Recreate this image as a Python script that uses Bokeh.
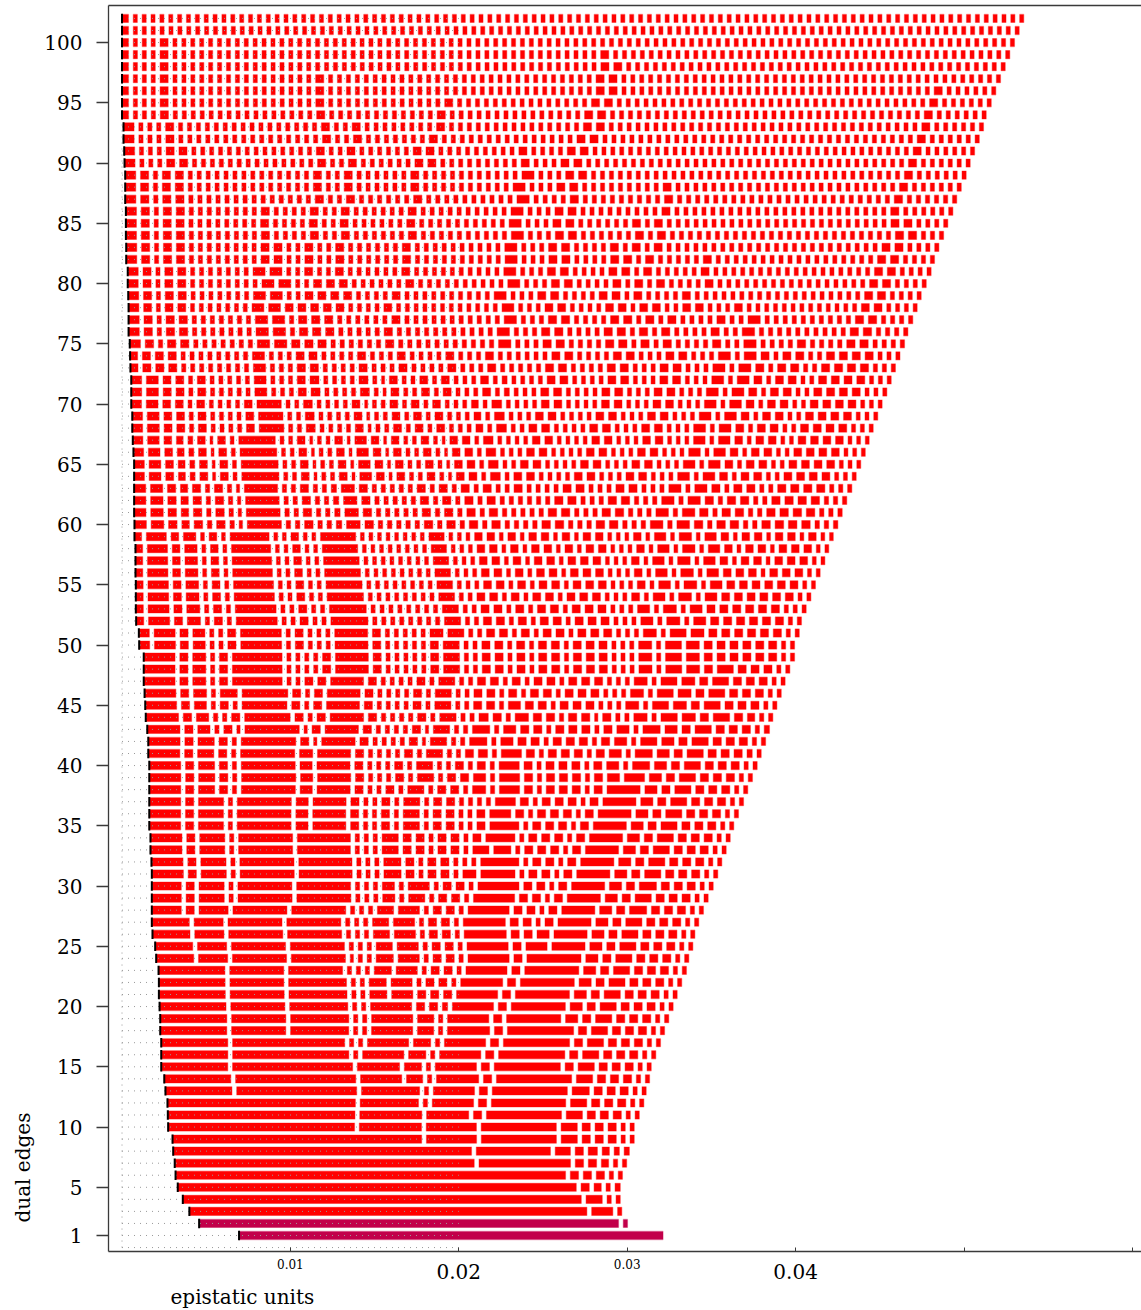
import numpy as np
from bokeh.plotting import figure
from bokeh.models import Range1d, FixedTicker, LinearAxis, Title, ColumnDataSource
from bokeh.embed import file_html
from bokeh.resources import INLINE

# ---- data -----------------------------------------------------------------
# Each row k (dual edges = k) is a run of k contiguous segments between
# row_start and row_end (epistatic units).  row_widths holds the relative
# segment widths, left to right ("w*n" = n segments of width w).
row_start = [
    0.00695, 0.00458, 0.00400, 0.00361, 0.00331, 0.00318, 0.00313, 0.00304, 0.00300, 0.00274,
    0.00272, 0.00270, 0.00258, 0.00251, 0.00233, 0.00233, 0.00233, 0.00227, 0.00227, 0.00223,
    0.00219, 0.00219, 0.00217, 0.00203, 0.00197, 0.00181, 0.00177, 0.00177, 0.00177, 0.00177,
    0.00177, 0.00175, 0.00169, 0.00169, 0.00162, 0.00162, 0.00162, 0.00162, 0.00162, 0.00162,
    0.00156, 0.00156, 0.00150, 0.00141, 0.00138, 0.00134, 0.00129, 0.00129, 0.00129, 0.00102,
    0.00100, 0.00084, 0.00082, 0.00082, 0.00082, 0.00080, 0.00080, 0.00080, 0.00074, 0.00074,
    0.00072, 0.00072, 0.00072, 0.00072, 0.00072, 0.00068, 0.00064, 0.00061, 0.00061, 0.00055,
    0.00055, 0.00055, 0.00050, 0.00048, 0.00046, 0.00039, 0.00039, 0.00039, 0.00037, 0.00034,
    0.00034, 0.00025, 0.00025, 0.00023, 0.00023, 0.00023, 0.00019, 0.00019, 0.00019, 0.00015,
    0.00013, 0.00009, 0.00009, 0.00000, 0.00000, 0.00000, 0.00000, 0.00000, 0.00000, 0.00000,
    0.00000, 0.00000,
]

row_end = [
    0.03227, 0.03016, 0.02982, 0.02973, 0.02973, 0.02986, 0.03011, 0.03027, 0.03056, 0.03056,
    0.03086, 0.03113, 0.03127, 0.03147, 0.03157, 0.03184, 0.03212, 0.03236, 0.03261, 0.03287,
    0.03311, 0.03338, 0.03366, 0.03380, 0.03404, 0.03416, 0.03439, 0.03467, 0.03495, 0.03525,
    0.03552, 0.03576, 0.03602, 0.03626, 0.03647, 0.03675, 0.03705, 0.03730, 0.03758, 0.03786,
    0.03810, 0.03836, 0.03859, 0.03879, 0.03903, 0.03929, 0.03952, 0.03980, 0.04008, 0.04008,
    0.04036, 0.04049, 0.04077, 0.04105, 0.04132, 0.04160, 0.04188, 0.04211, 0.04238, 0.04265,
    0.04291, 0.04318, 0.04348, 0.04374, 0.04401, 0.04428, 0.04451, 0.04475, 0.04502, 0.04528,
    0.04556, 0.04582, 0.04607, 0.04634, 0.04661, 0.04681, 0.04710, 0.04736, 0.04760, 0.04790,
    0.04819, 0.04839, 0.04865, 0.04893, 0.04918, 0.04948, 0.04971, 0.04998, 0.05027, 0.05051,
    0.05077, 0.05105, 0.05130, 0.05146, 0.05176, 0.05203, 0.05231, 0.05259, 0.05286, 0.05314,
    0.05342, 0.05369,
]

row_widths = [
    "1",
    "422 9",
    "401 26 9",
    "401 21 9 9",
    "401 13 12 9 10",
    "393 13 13 13 9 9",
    "301 96 13 13 12 9 9",
    "301 79 20 13 14 12 10 10",
    "252 55 80 21 13 13 13 9 9",
    "189 67 55 80 21 13 13 13 9 9",
    "190 67 47 13 80 21 13 13 13 9 9",
    "190 63 9 46 13 79 21 13 13 13 9 9",
    "69 125 63 9 46 13 80 22 13 13 13 9 9",
    "69 125 46 21 9 47 13 80 21 13 13 13 9 9",
    "69 125 47 22 9 46 13 71 13 21 13 13 13 9 9",
    "69 121 9 46 22 9 46 13 71 13 21 13 13 13 9 9",
    "69 117 9 9 46 22 9 46 13 71 13 21 13 13 13 9 9",
    "69 59 63 9 9 46 21 9 47 13 71 13 21 13 13 13 9 9",
    "69 59 63 9 9 46 21 9 46 13 59 17 13 21 13 13 13 9 9",
    "69 59 63 9 9 46 13 13 10 46 13 59 17 13 21 13 13 13 9 9",
    "69 59 63 9 9 22 26 13 13 13 46 13 59 17 13 21 13 13 13 9 9",
    "69 59 63 9 9 22 26 9 13 13 9 47 13 59 17 13 21 13 13 13 9 9",
    "69 59 59 9 9 9 22 26 9 13 13 9 46 13 59 17 13 21 13 13 13 9 9",
    "40 34 59 59 8 9 9 22 26 9 13 13 9 46 13 59 17 13 21 13 13 13 9 9",
    "40 34 59 59 9 9 9 21 26 9 13 13 9 46 13 26 38 17 13 21 13 13 13 9 9",
    "40 34 59 59 9 9 9 21 26 9 13 13 9 47 13 13 17 38 17 13 21 13 13 13 9 9",
    "40 34 59 59 9 9 9 21 26 9 13 13 9 47 13 13 9 13 38 17 13 21 13 13 13 9 9",
    "32 13 34 59 59 9 9 9 21 26 9 13 13 9 46 13 13 9 13 38 17 13 22 13 13 13 9 9",
    "32 13 30 9 59 59 9 9 9 17 9 21 9 13 13 9 46 13 13 9 13 38 17 13 21 13 13 13 9 9",
    "32 13 30 9 59 59 9 9 9 17 9 26 9 13 13 9 46 13 13 9 13 38 17 13 22 13 13 13 9 9",
    "34 13 30 9 59 58 9 9 9 22 13 9 13 13 9 18 39 9 13 13 9 13 38 17 13 21 13 13 13 9 9",
    "34 13 30 9 59 58 9 9 9 22 13 9 13 13 9 9 9 43 9 13 13 9 13 38 17 13 21 13 13 13 9 9",
    "34 13 30 9 59 58 9 9 9 21 13 13 9 13 13 9 21 22 9 13 13 13 9 13 38 17 13 21 13 13 13 9 9",
    "34 13 30 9 59 58 9 9 9 21 13 13 9 13 13 9 13 34 9 13 13 13 9 13 38 17 13 21 13 13 13 9 9",
    "34 13 30 9 59 17 38 13 9 9 13 9 21 9 13 13 9 9 13 34 9 13 13 13 9 13 38 17 13 21 13 13 13 9 9",
    "34 13 30 9 59 17 38 13 9 9 13 9 21 9 13 13 9 9 13 26 13 9 13 13 13 9 13 38 17 13 21 13 13 13 9 9",
    "34 13 30 9 59 17 38 13 9 9 13 9 21 9 13 13 9 9 9 9 25 13 9 13 13 13 9 13 38 17 13 21 13 13 13 9 9",
    "34 13 21 13 9 59 17 38 13 9 9 13 9 21 9 13 13 9 18 9 25 13 9 13 13 13 9 13 38 17 13 21 13 13 13 9 9",
    "34 13 21 13 9 59 17 38 13 9 9 9 13 9 21 9 13 13 17 9 25 13 9 13 13 13 9 13 17 25 17 13 21 13 13 13 9 9",
    "34 13 21 13 9 59 17 38 13 9 9 9 13 9 21 9 9 13 9 13 9 25 13 9 13 13 13 9 13 17 9 22 17 13 21 13 13 13 9 9",
    "34 13 21 13 9 59 18 38 13 9 9 9 9 13 9 21 9 9 13 14 9 25 13 9 13 13 13 9 13 17 9 22 17 13 21 13 13 13 10 9",
    "34 13 21 13 9 59 13 8 38 13 9 9 9 9 13 8 21 9 9 22 9 17 13 13 9 13 13 13 9 13 17 9 21 17 13 21 13 13 13 9 9",
    "35 13 17 9 13 8 59 8 13 38 13 9 9 9 9 13 8 21 9 9 22 9 17 13 13 9 13 13 13 9 13 17 9 22 17 13 21 13 13 13 9 10",
    "35 13 17 9 9 13 50 13 9 13 38 13 9 9 9 9 13 9 21 9 9 14 13 9 18 13 13 9 13 13 8 13 9 9 18 9 21 18 13 21 13 12 9 9",
    "34 13 17 9 13 9 50 13 9 13 38 13 9 9 9 9 13 9 21 9 9 13 13 9 17 13 13 9 13 13 13 9 9 9 18 9 21 18 13 21 13 13 13 9 9",
    "34 13 18 9 22 51 13 9 13 38 13 9 9 9 9 13 9 21 9 9 13 13 9 13 9 13 13 9 13 13 13 9 9 9 18 9 21 18 13 21 13 13 13 9 9",
    "34 13 18 9 13 55 9 9 13 13 38 13 9 9 9 9 13 9 21 9 9 13 13 9 13 9 13 13 9 13 13 13 9 9 9 18 9 21 18 13 21 13 13 13 9 9",
    "34 13 18 9 13 55 9 9 9 9 13 38 13 9 9 9 9 9 13 21 9 9 13 13 9 13 9 13 13 9 13 13 13 9 9 9 18 9 21 18 13 21 13 13 13 9 9",
    "34 13 18 9 13 55 9 9 9 9 13 38 13 9 9 9 9 9 13 21 9 9 13 13 9 13 9 13 13 9 13 13 13 9 9 9 18 9 21 18 13 13 13 13 13 13 9 9",
    "13 26 13 17 9 9 13 46 9 13 9 9 9 38 13 9 9 9 9 9 13 21 9 9 13 13 9 13 9 13 13 9 13 13 13 9 9 9 18 9 21 18 13 13 13 13 13 13 9 9",
    "13 26 13 17 9 9 13 46 9 13 9 9 9 38 13 9 9 9 9 9 18 21 9 9 13 13 9 13 9 13 13 9 13 13 13 9 9 9 18 9 21 18 13 13 13 13 13 13 9 9",
    "10 26 13 18 9 13 9 46 9 9 13 9 9 42 9*8 21 9 9 13 13 9 13 9 13 13 9 13 13 13 9 9 9 17 9 18 9 17 13*6 9 9",
    "10 26 13 18 9 13 9 46 9 9 13 9 9 42 9*8 21 9 9 13 13 9 13 9 13 13 9 13 13 13 9 9 9 17 9 18 9 17 13*6 9 9 9",
    "10 26 13 18 9 13 9 46 9 9 13 9 9 42 9*8 21 9 9 13 13 9 13 9 13 13 9 13 13 13 9 9 9 13 9 17 9 18 9 17 13*6 9 9",
    "10 26 13 18 9 13 9 46 9 9 13 9 9 42 9*8 21 9 9 9 13 13 9 13 9 13 13 9 13 13 13 9 9 9 13 9 17 9 18 9 17 13*6 9 9",
    "10 26 13 18 9 13 9 46 9 9 13 9 9 42 9*8 21 9 9 9 13 13 9 13 9 13 13 9 13 13 13 9 9 9 13 9 17 9 18 9 17 13 13 13 9 13 13 13 9 9",
    "10 26 13 18 9 13 9 46 9 9 13 9 9 42 9*8 21 9 9 9 13 13 9 13 9 13 13 9 13 13 13 9 9 9 13 9 17 9 18 9 17 13 9 13 13 9 13 13 13 9 9",
    "10 26 13 18 9 13 9 46 9 9 13 9 9 42 9*8 21 9 9 9 13 13 9 13 9 13 13 9 13 9 13 13 9 9 9 13 9 17 9 18 9 17 13 9 13 13 9 13 13 13 9 9",
    "10 26 13 18 9 13 9 46 9 9 13 9 9 42 9*8 21 9 9 9 13 13 9 13 9 13 13 9 13 9 13 13 9 9 9 13 9 17 9 18 9 17 13 9 13 13 9 13 13 9 13 9 9",
    "14 17 13 12 13 9 13 9 8 38 9 9 13 9 9 10 18 13 9 9 9 9 9 13 9 13 9 13 9 13 9 9 9 9 13 13 9 9 9 13 13 9 9 9 17 9 17 13 9 13 13 9 9 13 13 13 13 9 9 9",
    "14 17 13 12 13 9 13 9 8 38 9 9 13 9 9 10 18 13 9 9 9 9 9 13 9 13 9 13 9 13 9 9 9 9 9 13 13 9 9 9 13 13 9 9 9 17 9 17 13 9 13 13 9 9 13 13 13 13 9 9 9",
    "14 17 13 12 13 9 13 9 8 38 9 9 13 9 9 10 18 13 9 9 9 9 9 13 9 13 9 13 9 13 9 9 9 9 9 9 13 13 9 9 9 13 13 9 9 9 17 9 17 13 9 13 13 9 9 13 13 13 13 9 9 9",
    "14 17 13 12 13 9 13 9 8 38 9 9 13 9 9 10 18 13 9 9 9 9 9 13 9 13 9 13 9 13 9 9 13 9 9 9 9 13 13 9 9 9 13 13 9 9 9 17 9 17 13 9 13 13 9 9 13 13 13 13 9 9 9",
    "13 17 13 12 10 13 8 13 9 43 9 9 13 8 9 9 13 8 17 13 8 13 9 9 13 9 8 13 13 9 15 9 13 13 9 9 9 9 13 13 9 9 9 13 13 9 9 9 17 9 17 13 9 13 13 9 9 13 13 13 13 9 9 9",
    "13 17 13 12 10 13 8 13 9 43 9 9 13 8 9 9 13 8 17 13 8 13 9 9 13 9 8 13 13 9 15 9 9 13 13 9 9 9 9 13 13 9 9 9 13 13 9 9 9 17 9 17 13 9 13 13 9 9 13 13 13 13 9 9 9",
    "13 17 13 12 10 13 8 13 9 43 9 9 13 8 9 9 13 8 17 13 8 13 9 9 13 9 8 13 13 9 15 9 9 9 13 13 9 9 9 9 13 13 9 9 9 13 13 9 9 9 17 9 17 13 9 13 13 9 9 13 13 13 13 9 9 9",
    "13 17 13 12 10 13 8 13 9 43 9 9 13 8 9 9 13 8 17 13 8 13 9 9 13 9 8 13 13 9 15 9 9 9 9 13 13 9 9 9 9 13 13 9 9 9 13 13 9 9 9 17 9 17 13 9 13 13 9 9 13 13 13 13 9 9 9",
    "13 17 13 13 9 13 9 9 9 9 13 30 9 9 14 9 9 9 9 13 8 9 9 13 9 13 9 13 9 9 9 12 9 15 9 9 13 13 9 9 9 9 13 13 9 9 9 13 13 9 9 9 17 9 17 13 9 13 13 9 9 13 13 13 13 9 9 9",
    "13 17 13 13 9 13 9 9 9 9 13 30 9 9 14 9 9 9 9 13 8 9 9 13 9 13 9 13 9 9 9 12 9 15 9 9 9 13 13 9 9 9 9 13 13 9 9 9 13 13 9 9 9 17 9 17 13 9 13 13 9 9 13 13 13 13 9 9 9",
    "13 17 13 13 9 13 9 9 9 9 13 30 9 9 14 9 9 9 9 13 8 9 9 13 9 13 9 13 9 9 9 12 9 15 9 9 9 9 13 13 9 9 9 9 13 13 9 9 9 13 13 9 9 9 17 9 17 13 9 13 13 9 9 13 13 13 13 9 9 9",
    "13 17 13 13 9 13 9 9 9 9 9 17 9 9 9 13 14 9 9 9 9 14 9 8 13 9 9 13 9 13 9 9 9 13 9 10 9 9 9 13 13 9 9 9 9 13 13 9 9 9 13 13 9 9 9 17 9 17 13 9 13 13 9 9 13 13 13 13 9 9 9",
    "13 17 13 13 9 13 9 9 9 9 9 17 9 9 9 13 14 9 9 9 9 14 9 8 13 9 9 13 9 13 9 9 9 13 9 10 9 9 9 9 13 13 9 9 9 9 13 13 9 9 9 13 13 9 9 9 17 9 17 13 9 13 13 9 9 13 13 13 13 9 9 9",
    "10 13 13 13 9*8 17 9 9 9 13 13 9 9 9 9 13 9 9 9 13 9 9 9 9 13 9 9 9 13 9 9 9 9 9 13 13 9 9 9 9 13 13 9 9 9 13 13 9 9 9 17 9 17 13 9 13 13 9 9 13 13 13 13 9 9 9",
    "10 13 13 13 9*8 17 9 9 9 13 13 9 9 9 9 13 9 9 9 13 9 9 9 9 13 9 9 9 13 9 9 9 9 9 9 13 13 9 9 9 9 13 13 9 9 9 13 13 9 9 9 17 9 17 13 9 13 13 9 9 13 13 13 13 9 9 9",
    "13 13 9 13 13 9*7 17 17 13 13 13 9*6 13 9*11 17 9*3 13 13 9*4 13 13 9 13 9 13 9*4 13 9*2 17 9*4 13 9*4 13 13 9*4",
    "13 13 9 13 13 9*7 17 17 9 13 13 13 9*5 13 9*11 17 9*3 13 13 9*4 13 13 9 13 9 13 9*4 13 9*2 17 9*10 13 13 9*4",
    "13 13 9 13 13 9*7 17 17 9 13 13 13 9*6 13 9*11 17 9*3 13 13 9*4 13 13 9 13 9 13 9*4 13 9*2 17 9*10 13 13 9*4",
    "13 13 9 13 13 9*7 17 17 13*5 9*4 13 9*12 17 9*3 13 13 9*4 13 13 9 13 13 9*2 13 13 9*3 13 9*13 13 13 9*4",
    "13 13 9 13 13 9*7 17 17 9*2 13 13 13 13 9*4 13 9*10 17 9*3 13 13 9*4 13 13 9 13 9*4 13 9*19 13 13 9*4",
    "13 13 9 13 13 9*8 17 17 9*2 13 13 13 9*6 13 9*10 17 9*3 13 13 9*4 13 9 13 9 13 9*4 13 9*17 13 13 9*4",
    "13 13 9 13 13 9*7 17 17 9*2 13 9*2 13 9*6 13 9*10 17 9*3 13 13 9*4 13 13 9 13 9*5 13 9*18 13 13 9*4",
    "13 13 9 13 13 9*8 13 13 9*2 13 9*2 13 9*6 13 9*10 17 9*3 13 13 9*4 13 13 9 13 9*5 13 9*18 13 13 9*4",
    "13 13 9 13 13 9*8 13 13 9*2 13 9*2 13 9*6 13 9*10 17 9*3 13 13 9*4 13 9 13 9 13 9*24 13 13 9*4",
    "13 13 9 13 13 9*8 13 9*4 13 9*2 13 9*6 13 9*10 17 9*3 13 13 9*6 13 9 13 9*25 13 13 9*3",
    "13 13 9 13 13 9*8 13 9*4 13 9*2 13 9*6 13 9*10 17 9*3 13 13 9*6 13 9 13 9*25 13 13 9*4",
    "13 13 9 13 13 9*8 13 9*4 13 9*2 13 9*6 13 9*10 17 9*3 13 13 9*9 13 9*24 13 9*6",
    "13 13 9 13 13 9*14 13 9*2 13 9*6 13 9*10 17 9*4 13 9*9 13 9*24 13 9*6",
    "13 13 9 13 13 9*14 13 9*2 13 9*6 13 9*10 17 9*3 13 13 9*9 13 9*25 13 9*6",
    "13 13 9 13 13 9*14 13 9*2 13 9*6 13 9*11 17 9*3 13 13 9*35 13 9*6",
    "13 9*3 13 13 9*14 13 9*2 13 9*6 13 13 9*9 13 9*3 13 13 9*36 13 9*6",
    "13 9*3 13 13 9*14 13 9*2 13 9*6 13 13 9*9 13 9*4 13 13 9*36 13 9*6",
    "13 9*3 13 9*16 13 9*2 13 9*7 13 9*15 13 13 9*35 13 9*6",
    "13 9*3 13 9*16 13 9*2 13 9*8 13 9*15 13 13 9*35 13 9*6",
    "9*4 13 9*16 13 9*12 13 9*15 13 13 9*35 13 9*6",
    "9*4 13 9*16 13 9*13 13 9*15 13 13 9*35 13 9*6",
    "9*4 13 9*16 13 9*30 13 13 9*35 13 9*6",
    "9*4 13 9*16 13 9*30 13 13 9*43",
    "9*4 13 9*48 13 13 9*43",
    "9*4 13 9*48 13 9*45",
    "9*4 13 9*95",
    "9*101",
    "9*102",
]

highlight_rows = [1, 2]
y_ticks = [1, 5, 10, 15, 20, 25, 30, 35, 40, 45, 50, 55, 60, 65, 70, 75, 80, 85, 90, 95, 100]
x_ticks = [0.01, 0.02, 0.03, 0.04, 0.05, 0.06]
x_big_labels = {0.02: "0.02", 0.04: "0.04"}
x_small_labels = {0.01: "0.01", 0.03: "0.03"}
dotted_until = 0.02

# ---- layout ---------------------------------------------------------------
W, H = 1141, 1310
BORDER_L, BORDER_R, BORDER_T, BORDER_B = 108, 0, 5, 59
FRAME_W = W - BORDER_L - BORDER_R
X_LO, X_HI = -0.000802, 0.060540
Y_LO, Y_HI = -0.328, 103.075
PX = (X_HI - X_LO) / FRAME_W          # data units per screen pixel
HALF_GAP = 2.4 * PX
HALF_BAR = 0.335                       # half bar height, in rows

RED = "#ff0000"
CRIMSON = "#c2004a"
SERIF = "DejaVu Serif"
AX = "#3a3a3a"


def decode(code):
    out = []
    for tok in code.split():
        if "*" in tok:
            w, n = tok.split("*")
            out.extend([float(w)] * int(n))
        else:
            out.append(float(tok))
    return np.array(out)


seg = dict(left=[], right=[], bottom=[], top=[], color=[])
for k, (s, e, code) in enumerate(zip(row_start, row_end, row_widths), start=1):
    w = decode(code)
    edges = s + (e - s) * np.concatenate([[0.0], np.cumsum(w)]) / w.sum()
    lefts = edges[:-1] + HALF_GAP
    lefts[0] = edges[0]
    rights = edges[1:] - HALF_GAP
    c = CRIMSON if k in highlight_rows else RED
    for l, r in zip(lefts, rights):
        seg["left"].append(l)
        seg["right"].append(r)
        seg["bottom"].append(k - HALF_BAR)
        seg["top"].append(k + HALF_BAR)
        seg["color"].append(c)

p = figure(width=W, height=H,
           x_range=Range1d(X_LO, X_HI), y_range=Range1d(Y_LO, Y_HI),
           output_backend="svg", toolbar_location=None,
           min_border_left=BORDER_L, min_border_right=BORDER_R,
           min_border_top=BORDER_T, min_border_bottom=BORDER_B)
p.outline_line_color = None
p.grid.visible = False
p.background_fill_color = "white"
p.border_fill_color = "white"

p.quad(left="left", right="right", bottom="bottom", top="top",
       fill_color="color", line_color="color", line_alpha=0.35, line_width=1.2,
       source=ColumnDataSource(seg))

# dotted guide lines
rows_all = list(range(0, len(row_start) + 1))
p.segment(x0=[0.0] * len(rows_all), y0=rows_all,
          x1=[dotted_until] * len(rows_all), y1=rows_all,
          line_color="#9a9a9a", line_width=1, line_dash="1 5")
p.segment(x0=[0.0], y0=[0.0], x1=[0.0], y1=[len(row_start)],
          line_color="#9a9a9a", line_width=1, line_dash="1 5")

# start markers
rows = list(range(1, len(row_start) + 1))
p.segment(x0=row_start, y0=[r - 0.39 for r in rows],
          x1=row_start, y1=[r + 0.39 for r in rows],
          line_color="black", line_width=2)

# left axis
ya = p.yaxis[0]
ya.ticker = FixedTicker(ticks=y_ticks)
ya.axis_line_color = AX
ya.axis_line_width = 1.3
ya.major_tick_line_color = AX
ya.major_tick_line_width = 1.3
ya.major_tick_out = 12
ya.major_tick_in = 0
ya.minor_tick_line_color = None
ya.major_label_text_font = SERIF
ya.major_label_text_font_size = "20px"
ya.major_label_text_color = "black"
ya.major_label_standoff = 14

# bottom axis: tick marks plus the small labels
xa = p.xaxis[0]
xa.ticker = FixedTicker(ticks=x_ticks)
xa.axis_line_color = AX
xa.axis_line_width = 1.3
xa.major_tick_line_color = AX
xa.major_tick_line_width = 1
xa.major_tick_out = 0
xa.major_tick_in = 4
xa.minor_tick_line_color = None
xa.major_label_overrides = {t: x_small_labels.get(t, "") for t in x_ticks}
xa.major_label_text_font = SERIF
xa.major_label_text_font_size = "12px"
xa.major_label_text_color = "black"
xa.major_label_standoff = 7

# second bottom axis carrying the large labels
big_ticks = sorted(x_big_labels)
xb = LinearAxis(ticker=FixedTicker(ticks=big_ticks),
                axis_line_color=None, major_tick_line_color=None,
                minor_tick_line_color=None,
                major_label_text_font=SERIF, major_label_text_font_size="20px",
                major_label_text_color="black", major_label_standoff=-14,
                major_label_overrides={t: x_big_labels[t] for t in big_ticks})
p.add_layout(xb, "below")

# top border
top_axis = LinearAxis(ticker=FixedTicker(ticks=[]), axis_line_color=AX,
                      axis_line_width=1.3, major_label_text_font_size="0px",
                      major_tick_line_color=None, minor_tick_line_color=None)
p.add_layout(top_axis, "above")

# axis titles
p.add_layout(Title(text="epistatic units", align="left", offset=62, standoff=2,
                   text_font=SERIF, text_font_size="20px", text_font_style="normal",
                   text_color="black"), "below")
p.add_layout(Title(text="dual edges", align="left", offset=29, standoff=14,
                   text_font=SERIF, text_font_size="20px", text_font_style="normal",
                   text_color="black"), "left")

open("out.html", "w").write(file_html(p, INLINE))
